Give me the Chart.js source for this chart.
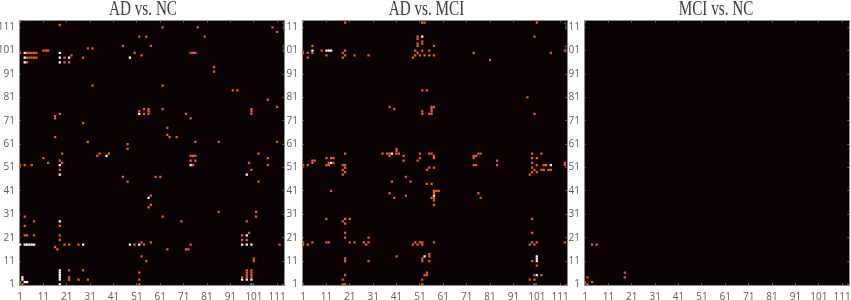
<!DOCTYPE html>
<html>
<head>
<meta charset="utf-8">
<title>Connectivity matrices</title>
<script src="https://cdn.jsdelivr.net/npm/chart.js@4/dist/chart.umd.min.js"></script>
<style>
    html, body { margin: 0; background: #fff; overflow: hidden; }
    body { width: 851px; height: 300px; position: relative; }
    .panel { position: absolute; top: 0; width: 305px; height: 300px; filter: blur(0.3px); }
</style>
</head>
<body>
<div class="panel" style="left: -11px"><canvas id="adNc"></canvas></div>
<div class="panel" style="left: 271.5px"><canvas id="adMci"></canvas></div>
<div class="panel" style="left: 553.5px"><canvas id="mciNc"></canvas></div>
<script>
const tickValues = [1, 11, 21, 31, 41, 51, 61, 71, 81, 91, 101, 111];

// [region, region] cells
const adNcOrange = [
    [18, 112], [62, 111], [77, 111], [109, 111], [111, 109], [52, 107], [55, 107], [80, 107],
    [45, 103], [57, 103], [30, 102], [32, 102], [11, 101], [12, 101], [13, 101],
    [1, 100], [4, 100], [5, 100], [6, 100], [7, 100], [8, 100], [50, 100], [74, 100], [75, 100], [76, 100],
    [23, 99], [53, 99], [4, 98], [5, 98], [6, 98], [7, 98], [8, 98], [20, 98], [28, 98],
    [4, 96], [20, 96], [22, 96], [84, 94], [84, 92], [32, 86], [62, 86], [92, 84], [94, 84],
    [107, 80], [111, 77], [54, 76], [56, 76], [62, 76], [100, 76], [52, 75], [56, 75], [100, 75],
    [18, 74], [54, 74], [56, 74], [72, 74], [100, 74], [16, 73], [16, 72], [74, 72], [28, 70],
    [64, 68], [64, 65], [16, 64], [65, 64], [68, 64], [30, 62], [76, 62], [86, 62], [111, 62],
    [47, 61], [47, 59], [19, 57], [35, 57], [39, 57], [103, 57], [34, 56], [74, 56], [75, 56], [76, 56],
    [11, 55], [107, 55], [18, 54], [74, 54], [76, 54], [13, 53], [19, 53], [99, 53],
    [1, 52], [3, 52], [6, 52], [75, 52], [107, 52], [18, 50], [100, 50],
    [45, 47], [59, 47], [61, 47], [47, 45], [103, 45], [57, 39], [57, 35], [56, 34],
    [86, 32], [102, 32], [3, 30], [62, 30], [102, 30], [7, 28], [70, 28], [98, 28], [3, 26], [18, 26],
    [99, 23], [3, 22], [4, 22], [7, 22], [18, 22], [96, 22], [18, 20], [96, 20], [98, 20],
    [53, 19], [57, 19], [20, 18], [22, 18], [26, 18], [50, 18], [54, 18], [74, 18], [112, 18],
    [16, 17], [17, 16], [64, 16], [72, 16], [73, 16], [53, 13], [101, 12], [55, 11], [101, 11],
    [22, 7], [28, 7], [98, 7], [100, 7], [52, 6], [98, 6], [100, 6], [98, 5], [100, 5],
    [22, 4], [96, 4], [98, 4], [100, 4], [22, 3], [26, 3], [30, 3], [52, 3],
    [1, 2], [2, 1], [52, 1], [100, 1],
];
const adNcWhite = [
    [3, 100], [18, 100], [3, 98], [18, 98], [22, 98], [48, 98], [3, 96], [18, 96],
    [52, 74], [18, 52], [74, 52], [18, 48], [98, 48], [38, 56], [56, 38], [18, 28], [98, 22],
    [1, 18], [3, 18], [4, 18], [5, 18], [6, 18], [7, 18], [28, 18], [48, 18], [52, 18],
    [96, 18], [98, 18], [100, 18], [18, 7], [18, 6], [18, 5], [18, 4], [18, 3], [18, 1],
    [2, 4], [2, 3], [3, 2], [4, 2], [96, 3], [98, 3], [100, 3],
];

const adMciOrange = [
    [19, 113], [52, 113], [53, 113], [101, 113], [50, 107], [100, 107], [50, 106], [52, 105],
    [50, 104], [52, 104], [5, 103], [50, 103], [57, 103], [9, 101], [19, 101], [49, 101], [52, 101], [55, 101], [113, 101],
    [1, 100], [3, 100], [5, 100], [18, 100], [50, 100], [74, 100], [107, 100],
    [11, 99], [19, 99], [23, 99], [29, 99], [49, 99], [51, 99], [53, 99], [55, 99], [57, 99],
    [3, 98], [18, 98], [48, 98], [81, 97], [52, 84], [54, 84], [97, 81], [38, 77], [56, 77], [57, 77],
    [40, 76], [56, 76], [52, 75], [56, 75], [52, 74], [55, 74], [56, 74], [100, 74],
    [41, 59], [41, 58], [19, 57], [35, 57], [37, 57], [38, 57], [41, 57], [42, 57], [51, 57], [55, 57], [56, 57],
    [77, 57], [76, 57], [99, 57], [103, 57], [38, 56], [44, 56], [57, 56], [74, 56], [75, 56],
    [11, 55], [13, 55], [14, 55], [51, 55], [57, 55], [74, 55], [99, 55], [101, 55],
    [5, 54], [6, 54], [44, 54], [50, 54], [84, 54], [5, 53], [12, 53], [14, 53], [99, 53], [113, 53],
    [1, 52], [3, 52], [11, 52], [12, 52], [18, 52], [19, 52], [74, 52], [75, 52], [84, 52], [101, 52], [104, 52], [105, 52], [113, 52],
    [19, 51], [55, 51], [57, 51], [99, 51], [18, 50], [54, 50], [100, 50], [103, 50], [104, 50], [106, 50], [107, 50],
    [19, 49], [99, 49], [101, 49], [18, 48], [98, 48], [45, 47], [39, 45], [47, 45], [54, 44], [56, 44],
    [13, 41], [57, 41], [58, 41], [59, 41], [38, 40], [57, 40], [76, 40], [45, 39], [40, 38], [56, 38], [57, 38], [77, 38],
    [57, 37], [57, 35], [11, 29], [19, 29], [21, 29], [99, 29], [18, 28], [19, 27], [19, 23], [99, 23], [19, 21], [29, 21],
    [1, 19], [5, 19], [11, 19], [12, 19], [21, 19], [23, 19], [27, 19], [29, 19], [49, 19], [51, 19], [52, 19], [57, 19], [99, 19], [101, 19], [113, 19],
    [1, 18], [3, 18], [28, 18], [48, 18], [50, 18], [52, 18], [98, 18], [100, 18],
    [55, 14], [41, 13], [55, 13], [19, 12], [52, 12], [19, 11], [29, 11], [52, 11], [55, 11], [99, 11], [101, 9],
    [54, 6], [19, 5], [53, 5], [54, 5], [100, 5], [103, 5], [18, 3], [52, 3], [98, 3], [100, 3],
    [18, 1], [19, 1], [52, 1], [100, 1],
];
const adMciWhite = [
    [52, 107], [5, 101], [11, 101], [12, 101], [13, 101], [39, 57], [13, 53], [107, 52], [57, 39],
    [53, 13], [101, 13], [101, 12], [101, 11], [101, 5],
];

const mciNcOrange = [[4, 18], [6, 18], [18, 6], [2, 4], [18, 4], [1, 2], [4, 2], [2, 1]];
const mciNcWhite = [];

function toPoints(cells) {
    return cells.map(([x, y]) => ({ x, y }));
}

function setTicks(scale) {
    scale.ticks = tickValues.map((value) => ({ value }));
}

function flatAxis(position, min, max) {
    return {
        position,
        min,
        max,
        afterBuildTicks: setTicks,
        afterFit(scale) {
            if (scale.isHorizontal()) {
                scale.height = 0;
            } else {
                scale.width = 0;
            }
        },
        ticks: { display: false, autoSkip: false },
        grid: { drawOnChartArea: false, tickLength: -2, color: '#5c5c5c', lineWidth: 1 },
        border: { color: '#8c8c8c', width: 1 },
    };
}

const plotBackground = {
    id: 'plotBackground',
    beforeDraw(chart) {
        const { ctx, chartArea } = chart;
        ctx.save();
        ctx.fillStyle = '#0a0102';
        ctx.fillRect(chartArea.left, chartArea.top, chartArea.width, chartArea.height);
        ctx.restore();
    },
};

// the titles are a narrow, tall serif, so the text is squeezed sideways
const panelTitle = {
    id: 'panelTitle',
    afterDraw(chart, args, options) {
        const { ctx } = chart;
        ctx.save();
        ctx.translate(options.center, 15);
        ctx.scale(0.76, 1);
        ctx.font = '20px "Liberation Serif", serif';
        ctx.fillStyle = '#3a3a3a';
        ctx.textAlign = 'center';
        ctx.fillText(options.text, 0, 0);
        ctx.restore();
    },
};

function drawPanel(id, title, titleCenter, orange, white) {
    const labelFont = { family: '"Liberation Sans Narrow", "Open Sans", sans-serif', size: 10 };

    new Chart(document.getElementById(id), {
        type: 'scatter',
        data: {
            datasets: [
                { data: toPoints(orange), backgroundColor: '#f0600f', borderWidth: 0, pointStyle: 'rect', pointRadius: 1.6 },
                { data: toPoints(white), backgroundColor: '#ffffff', borderWidth: 0, pointStyle: 'rect', pointRadius: 1.6 },
            ],
        },
        options: {
            responsive: false,
            animation: false,
            layout: { padding: { left: 0, right: 0, top: 20.5, bottom: 0 } },
            scales: {
                x: {
                    position: 'bottom',
                    min: 0.55,
                    max: 114,
                    afterBuildTicks: setTicks,
                    afterFit(scale) { scale.height = 15; },
                    ticks: { autoSkip: false, maxRotation: 0, color: '#5a5a5a', font: labelFont, padding: 8 },
                    grid: { drawOnChartArea: false, tickLength: -2, color: '#5c5c5c' },
                    border: { color: '#8c8c8c' },
                },
                y: {
                    position: 'left',
                    min: 0.75,
                    max: 113.9,
                    afterBuildTicks: setTicks,
                    afterFit(scale) { scale.width = 30; },
                    ticks: { autoSkip: false, color: '#5a5a5a', font: labelFont, padding: 6 },
                    grid: { drawOnChartArea: false, tickLength: -2, color: '#5c5c5c' },
                    border: { color: '#8c8c8c' },
                },
                xTop: flatAxis('top', 0.55, 114),
                yRight: flatAxis('right', 0.75, 113.9),
            },
            plugins: {
                legend: { display: false },
                tooltip: { enabled: false },
                panelTitle: { text: title, center: titleCenter },
            },
        },
        plugins: [plotBackground, panelTitle],
    });
}

for (const id of ['adNc', 'adMci', 'mciNc']) {
    const canvas = document.getElementById(id);
    canvas.width = 305;
    canvas.height = 300;
}

drawPanel('adNc', 'AD vs. NC', 154, adNcOrange, adNcWhite);
drawPanel('adMci', 'AD vs. MCI', 154.5, adMciOrange, adMciWhite);
drawPanel('mciNc', 'MCI vs. NC', 162, mciNcOrange, mciNcWhite);
</script>
</body>
</html>
